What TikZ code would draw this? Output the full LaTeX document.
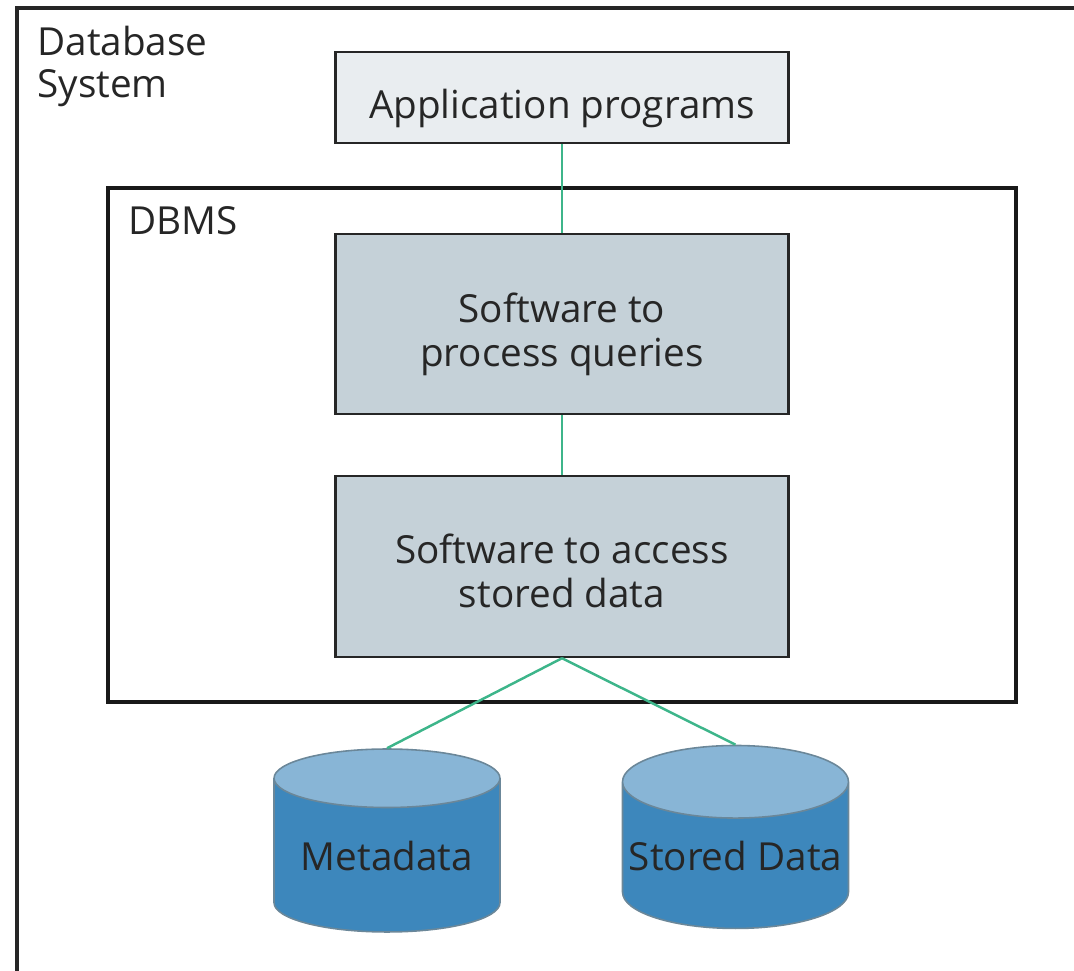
\documentclass[tikz,border=0pt]{standalone}
\usepackage{fontspec}
\setmainfont{Open Sans}
\usepackage{tikz}
\usetikzlibrary{shapes.geometric}
\definecolor{appfill}{HTML}{E9EDF0}
\definecolor{swfill}{HTML}{C5D1D8}
\definecolor{linkgreen}{HTML}{3DB58A}
\definecolor{dbside}{HTML}{3D87BC}
\definecolor{dbtop}{HTML}{88B5D6}
\definecolor{dbedge}{HTML}{6B8799}
% text set a little below the middle of its box
\newcommand{\boxtext}[2][0.22cm]{%
  \raisebox{-#1}[\height][\depth]{\begin{tabular}{@{}c@{}}#2\end{tabular}}}

\begin{document}
\begin{tikzpicture}[
  x=0.02cm, y=-0.02cm,
  boxtitle/.style={font={\fontsize{22}{24}\selectfont}, inner sep=0pt,
    align=left, anchor=north west, text=black!85},
  layer/.style={draw=black!85, line width=1.4pt,
    minimum width=9.06cm, inner sep=0pt,
    font={\fontsize{22}{25}\selectfont}, text=black!85},
  wire/.style={linkgreen, line width=1.4pt},
  store/.style={
    % Upright cylinder with a lighter top
    cylinder, shape border rotate=90, draw=dbedge, line width=0.9pt,
    cylinder uses custom fill, cylinder body fill=dbside,
    cylinder end fill=dbtop, aspect=0.34,
    minimum width=4.52cm, minimum height=3.66cm, inner sep=0pt,
    font={\fontsize{22}{24}\selectfont}, text=black!85},
  ]
  \useasboundingbox (0,0) rectangle (1074,970);
  \clip (0,0) rectangle (1074,970);
  % Outer frame
  \draw[line width=1.8pt, black!85] (17,1000) -- (17,8) -- (1100,8);
  \node[boxtitle] (system) at (37,26) {Database\\System};
  % DBMS frame
  \draw[line width=1.8pt, black!90] (108,188) rectangle (1016,702);
  \node[boxtitle] (dbms) at (128,206) {DBMS};
  % Layers
  \node[layer, fill=appfill, minimum height=1.82cm] (apps)
    at (562,97.5) {\boxtext[0.24cm]{Application programs}};
  \node[layer, fill=swfill, minimum height=3.6cm] (query)
    at (562,324) {\boxtext[0.24cm]{Software to\\process queries}};
  \node[layer, fill=swfill, minimum height=3.62cm] (access)
    at (562,566.5) {\boxtext[0.2cm]{Software to access\\stored data}};
  % Disks
  \node[store] (meta) at (387,855.5) {Metadata};
  \node[store] (data) at (735.5,855.5) {Stored Data};
  % Links
  \draw[wire] (apps) -- (query);
  \draw[wire] (query) -- (access);
  \draw[wire] (access.south) -- (meta.north);
  \draw[wire] (access.south) -- (data.north);
\end{tikzpicture}
\end{document}
